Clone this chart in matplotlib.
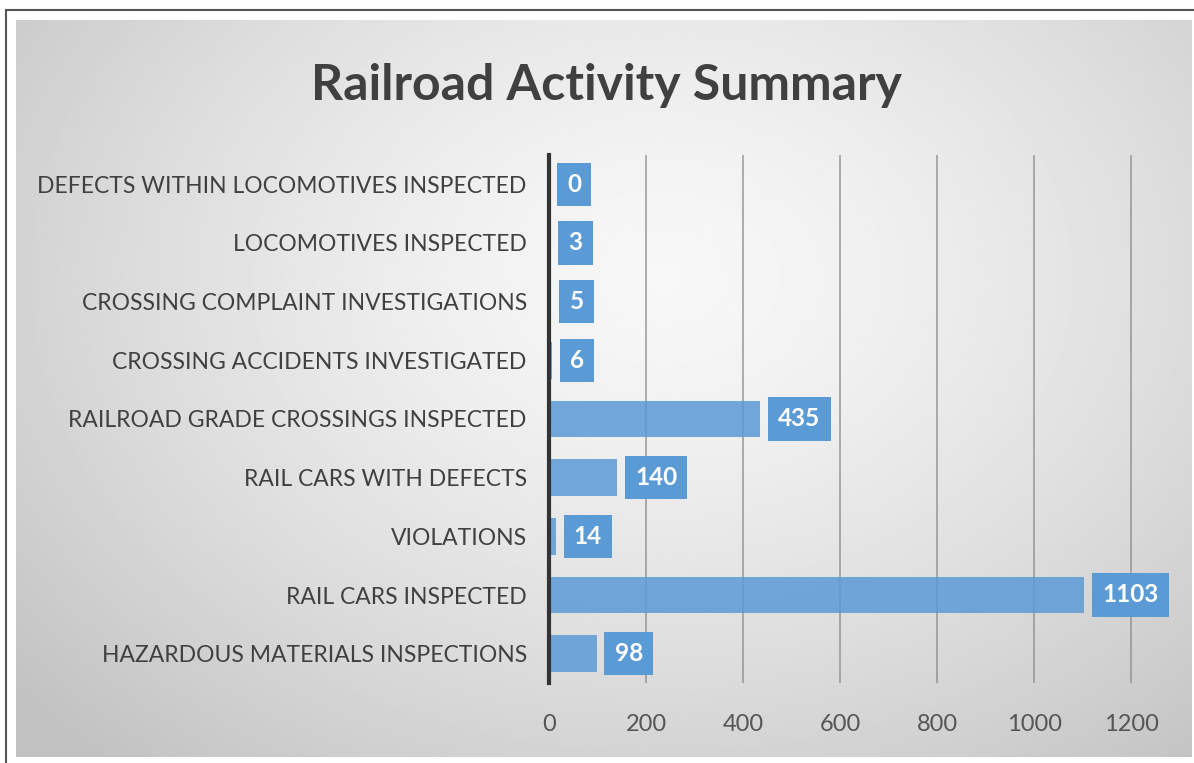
import numpy as np
import matplotlib.pyplot as plt
from matplotlib.lines import Line2D

categories = [
    'HAZARDOUS MATERIALS INSPECTIONS',
    'RAIL CARS INSPECTED',
    'VIOLATIONS',
    'RAIL CARS WITH DEFECTS',
    'RAILROAD GRADE CROSSINGS INSPECTED',
    'CROSSING ACCIDENTS INVESTIGATED',
    'CROSSING COMPLAINT INVESTIGATIONS',
    'LOCOMOTIVES INSPECTED',
    'DEFECTS WITHIN LOCOMOTIVES INSPECTED',
]
values = [98, 1103, 14, 140, 435, 6, 5, 3, 0]
xticks = [0, 200, 400, 600, 800, 1000, 1200]
title = 'Railroad Activity Summary'

W, H = 1194, 763
plt.rcParams['font.family'] = ['Lato', 'DejaVu Sans']
blue = '#5b9bd5'

fig = plt.figure(figsize=(W / 100, H / 100), dpi=100)
fig.patch.set_facecolor('white')

# gradient panel behind the chart
bg = fig.add_axes([16 / W, 1 - 757 / H, (1192 - 16) / W, (757 - 20) / H], zorder=0)
yy, xx = np.mgrid[0:1:300j, 0:1:500j]
r = np.sqrt(((xx - 0.55) / 0.75) ** 2 + ((yy - 0.35) / 0.9) ** 2)
shade = np.clip(0.97 - 0.22 * r ** 1.4, 0.76, 0.97)
bg.imshow(shade, cmap='gray', vmin=0, vmax=1, aspect='auto', extent=[0, 1, 1, 0])
bg.set_axis_off()

# thin outer frame (left and top)
fig.add_artist(Line2D([6 / W, 6 / W], [0, 1 - 10 / H], color='#555555', lw=1.5))
fig.add_artist(Line2D([6 / W, 1], [1 - 10 / H, 1 - 10 / H], color='#555555', lw=1.5))

ax = fig.add_axes([549 / W, 1 - 683 / H, 631 / W, (683 - 155) / H], zorder=1)
ax.patch.set_alpha(0)
y = np.arange(len(categories))
ax.barh(y, values, height=0.62, color=blue, alpha=0.85, zorder=3)
ax.set_xlim(0, 1300)
ax.set_ylim(-0.5, len(categories) - 0.5)
ax.set_xticks(xticks)
ax.set_xticklabels([str(t) for t in xticks], fontsize=17, color='#555555')
ax.set_yticks(y)
ax.set_yticklabels(categories, fontsize=16.5, color='#404040')
ax.tick_params(axis='both', length=0)
ax.tick_params(axis='x', pad=22)
ax.tick_params(axis='y', pad=16)
ax.grid(axis='x', color='#8a8a8a', lw=1.2, zorder=4, alpha=0.8)
for s in ['top', 'right', 'bottom']:
    ax.spines[s].set_visible(False)
ax.spines['left'].set_linewidth(3)
ax.spines['left'].set_color('#333333')
ax.spines['left'].set_zorder(6)

for yi, v in zip(y, values):
    ax.annotate(str(v), (v, yi), xytext=(13, 0), textcoords='offset points',
                ha='left', va='center', fontsize=17.5, fontweight='bold', color='white',
                bbox=dict(boxstyle='square,pad=0.42', fc=blue, ec='none'), zorder=5)

fig.text(606 / W, 1 - 85 / H, title, ha='center', va='center',
         fontsize=36, fontweight='bold', color='#404040')

fig.savefig('out.png', dpi=100)
